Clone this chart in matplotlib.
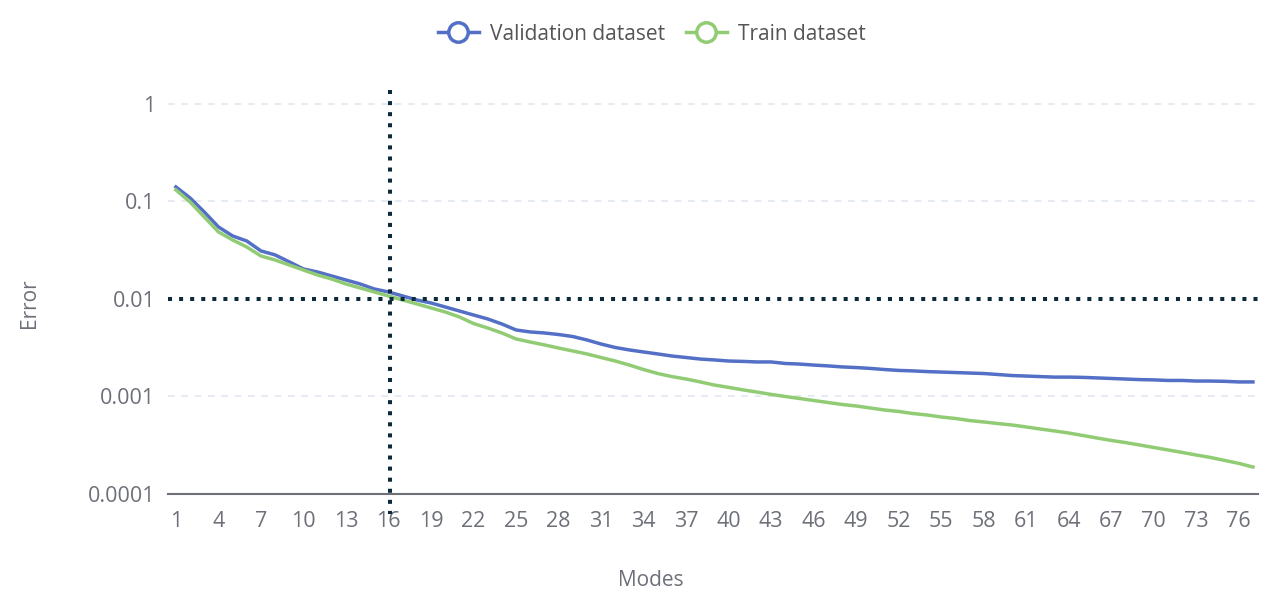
import matplotlib
matplotlib.use("Agg")
import matplotlib.pyplot as plt
from matplotlib.lines import Line2D
import numpy as np

modes = list(range(1, 78))
validation = [0.1409, 0.1086, 0.0780, 0.0548, 0.0443, 0.0393, 0.0311, 0.0283, 0.0240, 0.0203,
              0.0189, 0.0172, 0.01566, 0.01425, 0.01266, 0.01180, 0.01073, 0.00977, 0.00910, 0.00828,
              0.00753, 0.00685, 0.00624, 0.00554, 0.00481, 0.00459, 0.00448, 0.00432, 0.00412, 0.00380,
              0.00345, 0.00318, 0.00300, 0.00286, 0.00273, 0.00260, 0.00251, 0.00242, 0.00237, 0.00231,
              0.00229, 0.00226, 0.00226, 0.00218, 0.00215, 0.00210, 0.00206, 0.00201, 0.00198, 0.00194,
              0.00189, 0.00185, 0.00183, 0.00180, 0.00178, 0.00176, 0.00174, 0.00172, 0.00168, 0.00164,
              0.00162, 0.00160, 0.00158, 0.00158, 0.00157, 0.00155, 0.00153, 0.00151, 0.00149, 0.00148,
              0.00146, 0.00146, 0.00144, 0.00144, 0.00143, 0.00141, 0.00141]
train = [0.1312, 0.0988, 0.0693, 0.0487, 0.0403, 0.0341, 0.0276, 0.0251, 0.0223, 0.0198,
         0.0176, 0.0160, 0.01425, 0.01297, 0.01180, 0.01073, 0.00977, 0.00889, 0.00809, 0.00736,
         0.00654, 0.00560, 0.00504, 0.00448, 0.00389, 0.00362, 0.00338, 0.00314, 0.00293, 0.00273,
         0.00251, 0.00231, 0.00210, 0.00189, 0.00172, 0.00160, 0.00151, 0.00141, 0.00131, 0.00124,
         0.00117, 0.00111, 0.00105, 0.00100, 0.000954, 0.000910, 0.000868, 0.000828, 0.000799, 0.000762,
         0.000727, 0.000702, 0.000669, 0.000646, 0.000616, 0.000595, 0.000567, 0.000548, 0.000528, 0.000510,
         0.000487, 0.000464, 0.000443, 0.000422, 0.000398, 0.000375, 0.000354, 0.000337, 0.000318, 0.000300,
         0.000283, 0.000267, 0.000251, 0.000237, 0.000221, 0.000206, 0.000189]
x_ticks = list(range(1, 78, 3))
y_ticks = [0.0001, 0.001, 0.01, 0.1, 1]
y_tick_labels = ["0.0001", "0.001", "0.01", "0.1", "1"]
threshold_error = 0.01
threshold_mode = 16

plt.rcParams['font.family'] = ['Open Sans', 'DejaVu Sans']

BLUE = "#5470c6"
GREEN = "#91cc75"
AXIS = "#6E7079"
GRID = "#E0E6F1"
DOT = "#0d2a3a"

fig = plt.figure(figsize=(12.65, 5.89), dpi=100)
ax = fig.add_axes([0.1328, 0.1613, 0.8617, 0.6859])
ax.set_yscale('log')
ax.set_ylim(1e-4, 1.39)
ax.set_xlim(0.44, 77.36)

for v in [1, 0.1, 0.001]:
    ax.axhline(v, color=GRID, lw=1.2, dashes=(4, 4), zorder=1)

ax.plot(modes, validation, color=BLUE, lw=2.5, zorder=3, solid_joinstyle='round')
ax.plot(modes, train, color=GREEN, lw=2.5, zorder=3, solid_joinstyle='round')

ax.axhline(threshold_error, color=DOT, lw=2.9, linestyle=(0, (1, 1.75)),
           dash_capstyle='butt', zorder=4)
ax.plot([threshold_mode + 0.1, threshold_mode + 0.1], [1.39, 6.2e-5], color=DOT, lw=2.9,
        linestyle=(0, (1, 1.75)), dash_capstyle='butt', zorder=4, clip_on=False)

for s in ['top', 'right', 'left']:
    ax.spines[s].set_visible(False)
ax.spines['bottom'].set_color(AXIS)
ax.spines['bottom'].set_linewidth(1.5)
ax.spines['bottom'].set_zorder(2)

ax.set_xticks(x_ticks)
ax.set_xticklabels([str(t) for t in x_ticks])
ax.set_yticks(y_ticks)
ax.set_yticklabels(y_tick_labels)
ax.minorticks_off()
ax.tick_params(axis='both', length=0, labelsize=15.5, labelcolor=AXIS)
ax.tick_params(axis='x', pad=12)
ax.tick_params(axis='y', pad=9)

ax.set_xlabel("Modes", fontsize=15, color=AXIS, va='center')
ax.xaxis.set_label_coords(0.443, -0.213)
ax.set_ylabel("Error", fontsize=15, color=AXIS, va='center')
ax.yaxis.set_label_coords(-0.1266, 0.473)

handles = [Line2D([0], [0], color=BLUE, lw=2.5, marker='o', markersize=14,
                  markerfacecolor='white', markeredgecolor=BLUE, markeredgewidth=2.5),
           Line2D([0], [0], color=GREEN, lw=2.5, marker='o', markersize=14,
                  markerfacecolor='white', markeredgecolor=GREEN, markeredgewidth=2.5)]
fig.legend(handles, ["Validation dataset", "Train dataset"], loc='center',
           bbox_to_anchor=(0.515, 0.942), ncol=2, frameon=False, fontsize=15,
           labelcolor='#555555', handlelength=2.0, handletextpad=0.5, columnspacing=1.0)

fig.savefig("out.png", dpi=100)
